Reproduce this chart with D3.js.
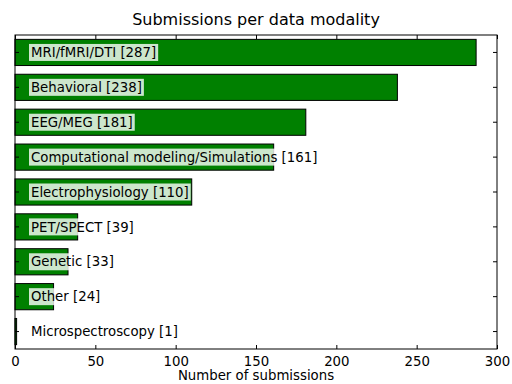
<!DOCTYPE html>
<html>
<head>
<meta charset="utf-8">
<script src="https://cdn.jsdelivr.net/npm/d3@7"></script>
<style>
  body { margin: 0; background: #fff; }
  text { font-family: "DejaVu Sans", sans-serif; fill: #000; }
</style>
</head>
<body>
<div id="chart"></div>
<script>
// data
const categories = ['MRI/fMRI/DTI', 'Behavioral', 'EEG/MEG', 'Computational modeling/Simulations',
    'Electrophysiology', 'PET/SPECT', 'Genetic', 'Other', 'Microspectroscopy'];
const counts = [287, 238, 181, 161, 110, 39, 33, 24, 1];
const xTicks = [0, 50, 100, 150, 200, 250, 300];

const data = categories.map((c, i) => ({name: c, value: counts[i]}));

const margin = {top: 35, right: 15, bottom: 35, left: 15},
    width = 512 - margin.left - margin.right,
    height = 384 - margin.top - margin.bottom;

const x = d3.scaleLinear().domain([0, 300]).range([0, width]);
const y = d3.scaleBand().domain(categories).range([0, height]).paddingInner(0.25).paddingOuter(0.125);

const svg = d3.select('#chart').append('svg')
    .attr('width', 512)
    .attr('height', 384);

const g = svg.append('g')
    .attr('transform', `translate(${margin.left},${margin.top})`);

// bars
g.selectAll('.bar')
    .data(data)
    .enter().append('rect')
    .attr('class', 'bar')
    .attr('x', x(0))
    .attr('y', d => y(d.name))
    .attr('width', d => x(d.value) - x(0))
    .attr('height', y.bandwidth())
    .style('fill', '#008000')
    .style('stroke', '#000')
    .style('stroke-width', 1);

// labels with translucent white box
const labels = g.selectAll('.lab')
    .data(data)
    .enter().append('g')
    .attr('class', 'lab')
    .attr('transform', d => `translate(16,${y(d.name) + y.bandwidth() / 2})`);

labels.append('text')
    .attr('dy', '0.35em')
    .style('font-size', '13.3px')
    .text(d => `${d.name} [${d.value}]`)
    .each(function () {
        const bb = this.getBBox();
        d3.select(this.parentNode).insert('rect', 'text')
            .attr('x', bb.x - 2)
            .attr('y', -8.5)
            .attr('width', bb.width + 4)
            .attr('height', 17)
            .style('fill', '#fff')
            .style('fill-opacity', 0.8);
    });

// frame
g.append('rect')
    .attr('width', width)
    .attr('height', height)
    .style('fill', 'none')
    .style('stroke', '#000')
    .style('stroke-width', 1);

// x axis (bottom + top ticks, inward)
const xAxis = g.append('g')
    .attr('transform', `translate(0,${height})`)
    .call(d3.axisBottom(x).tickValues(xTicks).tickSizeInner(-4).tickSizeOuter(0).tickPadding(8));
xAxis.select('.domain').remove();
xAxis.selectAll('text').style('font-size', '13.3px').attr('font-family', null);

const xTop = g.append('g')
    .call(d3.axisTop(x).tickValues(xTicks).tickSizeInner(-4).tickSizeOuter(0).tickFormat(''));
xTop.select('.domain').remove();

// y ticks left and right, no labels
const yLeft = g.append('g')
    .call(d3.axisLeft(y).tickSizeInner(-4).tickSizeOuter(0).tickFormat(''));
yLeft.select('.domain').remove();
const yRight = g.append('g')
    .attr('transform', `translate(${width},0)`)
    .call(d3.axisRight(y).tickSizeInner(-4).tickSizeOuter(0).tickFormat(''));
yRight.select('.domain').remove();

// title
svg.append('text')
    .attr('x', margin.left + width / 2)
    .attr('y', 25)
    .style('text-anchor', 'middle')
    .style('font-size', '16px')
    .text('Submissions per data modality');

// x label
svg.append('text')
    .attr('x', margin.left + width / 2)
    .attr('y', 380)
    .style('text-anchor', 'middle')
    .style('font-size', '13.3px')
    .text('Number of submissions');
</script>
</body>
</html>
